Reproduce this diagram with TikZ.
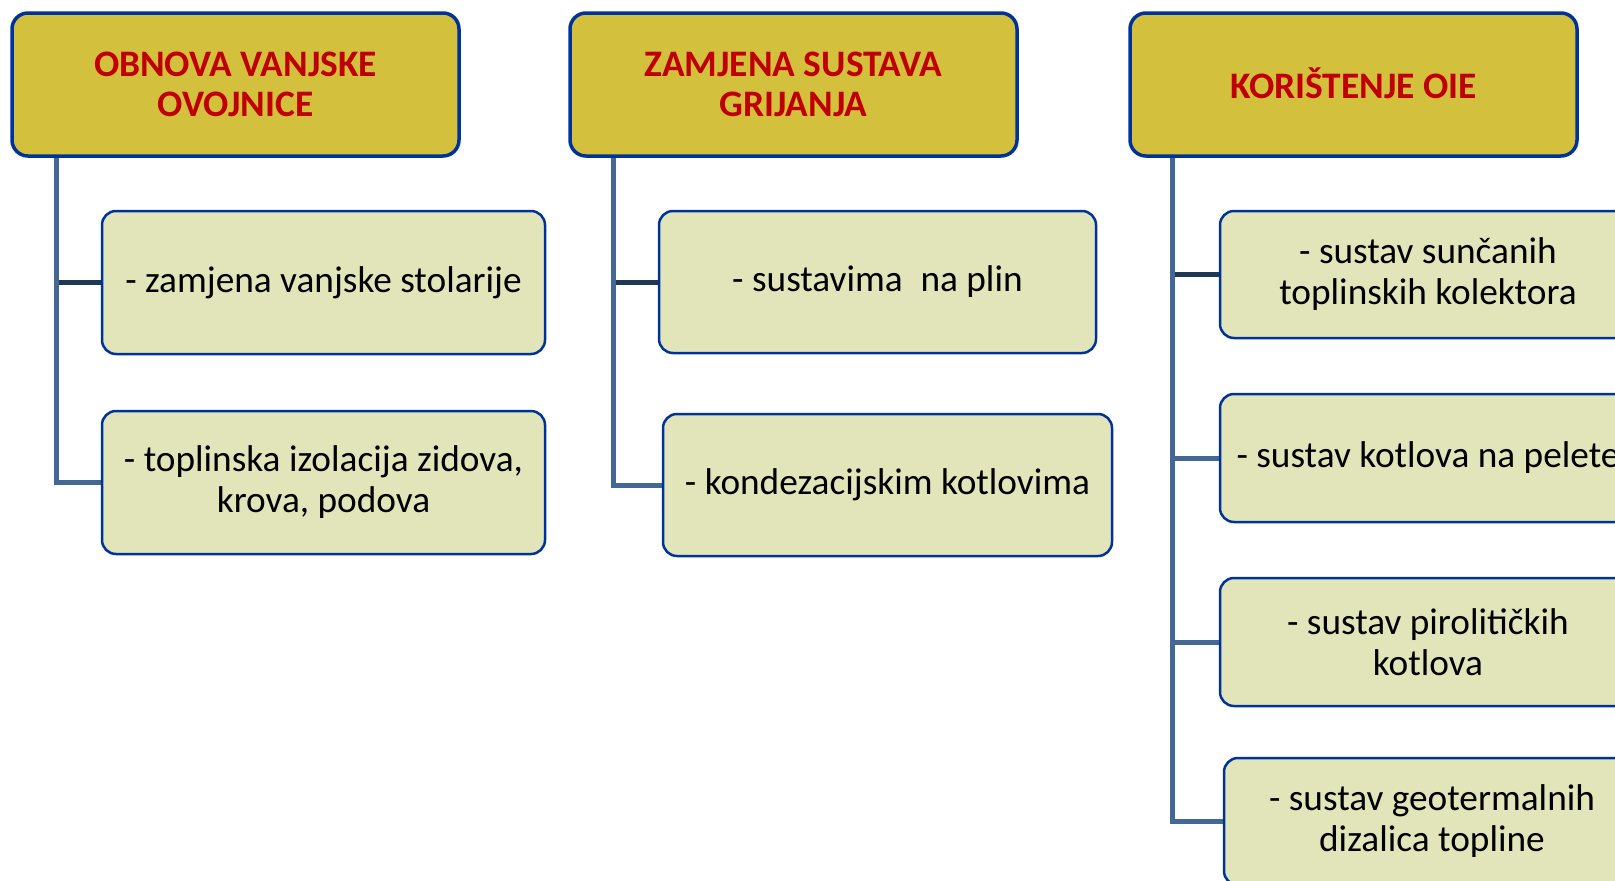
\documentclass[tikz,border=0pt]{standalone}
\usepackage{fontspec}
\setmainfont{Carlito}
\usetikzlibrary{backgrounds}
\definecolor{hdrfill}{RGB}{211,192,60}
\definecolor{bord}{RGB}{0,51,153}
\definecolor{kidfill}{RGB}{226,229,186}
\definecolor{conn}{RGB}{68,104,150}
\definecolor{conndark}{RGB}{31,56,84}
\definecolor{hdrtext}{RGB}{192,0,0}
\tikzset{
 hdr/.style={draw=bord, line width=3.5pt, fill=hdrfill, rounded corners=16pt, minimum width=447pt, minimum height=143pt, inner sep=0pt, align=center, text=hdrtext, font=\fontsize{37.4}{40}\selectfont\bfseries},
 kid/.style={draw=bord, line width=2.5pt, fill=kidfill, rounded corners=14pt, inner sep=0pt, align=center, font=\fontsize{37.3}{41}\selectfont},
 link/.style={draw=conn, line width=5pt},
 linkdark/.style={draw=conndark, line width=5pt},
}
\begin{document}
\begin{tikzpicture}[x=1pt,y=-1pt]
\useasboundingbox (0,0) rectangle (1615,881);
% headers
\node[hdr] (h1) at (235.5,84.5) {OBNOVA VANJSKE\\OVOJNICE};
\node[hdr] (h2) at (793.5,84.5) {ZAMJENA SUSTAVA\\GRIJANJA};
\node[hdr] (h3) at (1353.5,84.5) {\raisebox{3pt}{KORIŠTENJE OIE}};
% column 1
\node[kid, minimum width=443pt, minimum height=143pt] (c11) at (323.5,282.5) {- zamjena vanjske stolarije};
\node[kid, minimum width=443pt, minimum height=143pt] (c12) at (323.5,482.5) {- toplinska izolacija zidova,\\krova, podova};
% column 2
\node[kid, minimum width=437pt, minimum height=142pt] (c21) at (877.5,282) {- sustavima\hspace{0.25em} na plin};
\node[kid, minimum width=449pt, minimum height=142pt] (c22) at (887.5,485) {- kondezacijskim kotlovima};
% column 3
\node[kid, minimum width=416pt, minimum height=127pt] (c31) at (1428,274.5) {- sustav sunčanih\\toplinskih kolektora};
\node[kid, minimum width=416pt, minimum height=128pt] (c32) at (1428,458) {- sustav kotlova na pelete};
\node[kid, minimum width=416pt, minimum height=128pt] (c33) at (1428,642) {- sustav pirolitičkih\\kotlova};
\node[kid, minimum width=416pt, minimum height=127pt] (c34) at (1432,821.5) {- sustav geotermalnih\\dizalica topline};
% connectors
\coordinate (v1) at ([xshift=46pt]h1.south west);
\coordinate (v2) at ([xshift=45pt]h2.south west);
\coordinate (v3) at ([xshift=44pt]h3.south west);
\begin{scope}[on background layer]
\draw[linkdark] (v1 |- c11.west) -- (c11.west);
\draw[link] (v1) |- (c12.west);
\draw[linkdark] (v2 |- c21.west) -- (c21.west);
\draw[link] (v2) |- (c22.west);
\draw[linkdark] (v3 |- c31.west) -- (c31.west);
\draw[link] (v3 |- c32.west) -- (c32.west);
\draw[link] (v3 |- c33.west) -- (c33.west);
\draw[link] (v3) |- (c34.west);
\end{scope}
\end{tikzpicture}
\end{document}
